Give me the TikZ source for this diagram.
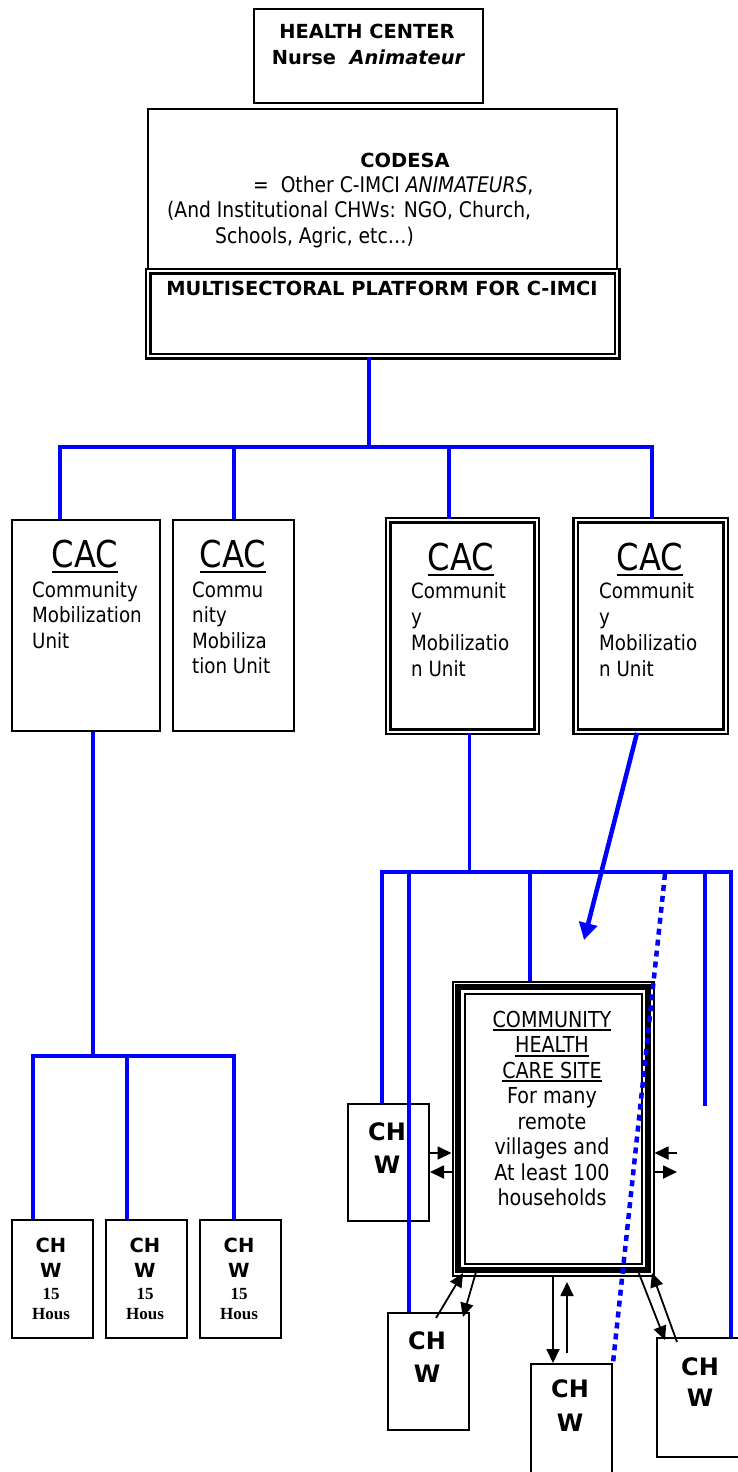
\documentclass[tikz,border=0pt]{standalone}
\usepackage{fontspec}
\setmainfont{DejaVu Sans}
\newfontfamily\nar{DejaVu Sans}[FakeStretch=0.87]
\newfontfamily\tms{Liberation Serif}
\usetikzlibrary{arrows.meta,calc}
\newcommand\myul[3]{\setbox0\hbox{#3}\rlap{\usebox0}\rule[#1]{\wd0}{#2}}
\begin{document}
\begin{tikzpicture}[x=1pt,y=-1pt,
  bx/.style={draw,line width=2pt,inner sep=0pt,anchor=north west},
  dbx/.style={draw,line width=2.4pt,double,double distance=2pt,inner sep=0pt,anchor=north west},
  bl/.style={draw=blue,line width=4pt},
  bldot/.style={draw=blue,line width=4.5pt,dash pattern=on 6pt off 5pt},
  ar/.style={draw=black,line width=1.8pt,-{Triangle[length=14pt,width=13pt]}},
  bt/.style={inner sep=0pt,anchor=base,font=\bfseries\fontsize{19.4}{23}\selectfont},
  nt/.style={inner sep=0pt,anchor=base west,font=\nar\fontsize{21.5}{25}\selectfont},
  cact/.style={inner sep=0pt,anchor=base,font=\nar\fontsize{37}{40}\selectfont},
  cacb/.style={inner sep=0pt,anchor=base west,font=\nar\fontsize{21}{25}\selectfont},
  sitet/.style={inner sep=0pt,anchor=base,font=\nar\fontsize{22}{25}\selectfont},
  chs/.style={inner sep=0pt,anchor=base,font=\bfseries\fontsize{19.5}{23}\selectfont},
  chn/.style={inner sep=0pt,anchor=base,font=\tms\bfseries\fontsize{17}{20}\selectfont},
  chb/.style={inner sep=0pt,anchor=base,font=\bfseries\fontsize{24}{28}\selectfont}
]
\useasboundingbox (0,0) rectangle (738,1472);
\fill[white] (0,0) rectangle (738,1472);

% ---------- top boxes ----------
\node[bx,minimum width=229pt,minimum height=94pt] (hc) at (253,8) {};
\node[bt] (hct1) at (367,39) {HEALTH CENTER};
\node[bt] (hct2) at (368,64) {Nurse\ \ \itshape Animateur};

\node[bx,minimum width=469pt,minimum height=160pt] (codesa) at (147,108) {};
\node[bt] (cod1) at (405,167) {CODESA};
\node[nt] (cod2) at (253,192) {=\ \ Other C-IMCI {\itshape ANIMATEURS},};
\node[nt] (cod3) at (167,217) {(And Institutional CHWs: NGO, Church,};
\node[nt] (cod4) at (215,243) {Schools, Agric, etc…)};

\node[dbx,fill=white,minimum width=469pt,minimum height=85pt] (plat) at (147,270) {};
\node[bt] (platt) at (382,295) {MULTISECTORAL PLATFORM FOR C-IMCI};

% ---------- CAC boxes ----------
\node[bx,minimum width=148pt,minimum height=211pt] (cac1) at (11,519) {};
\node[bx,minimum width=121pt,minimum height=211pt] (cac2) at (172,519) {};
\node[dbx,minimum width=148.5pt,minimum height=211.5pt] (cac3) at (387,519) {};
\node[dbx,minimum width=150pt,minimum height=211.5pt] (cac4) at (574.5,519) {};

\node[cact] (cac1t) at (85,567) {\myul{-6pt}{2.5pt}{CAC}};
\node[cact] (cac2t) at (233,567) {\myul{-6pt}{2.5pt}{CAC}};
\node[cact] (cac3t) at (461,570) {\myul{-6pt}{2.5pt}{CAC}};
\node[cact] (cac4t) at (650,570) {\myul{-6pt}{2.5pt}{CAC}};

\foreach \t [count=\i] in {Community,Mobilization,Unit}
  \node[cacb] (cac1l\i) at (32,{597+25.5*(\i-1)}) {\t};
\foreach \t [count=\i] in {Commu,nity,Mobiliza,tion Unit}
  \node[cacb] (cac2l\i) at (192,{597+25.5*(\i-1)}) {\t};
\foreach \t [count=\i] in {Communit,y,Mobilizatio,n Unit}
  \node[cacb] (cac3l\i) at (411,{598+26*(\i-1)}) {\t};
\foreach \t [count=\i] in {Communit,y,Mobilizatio,n Unit}
  \node[cacb] (cac4l\i) at (599,{598+26*(\i-1)}) {\t};

% ---------- top tree ----------
\coordinate (j0) at (369,447);
\coordinate (t1) at (60,447);
\coordinate (t2) at (234,447);
\coordinate (t3) at (449,447);
\coordinate (t4) at (652,447);
\draw[bl] (j0 |- plat.south) -- (j0);
\draw[bl] (t1 |- cac1.north) -- (t1) -- (t4) -- (t4 |- cac4.north);
\draw[bl] (t2) -- (t2 |- cac2.north);
\draw[bl] (t3) -- (t3 |- cac3.north);

% ---------- left CHW group ----------
\node[bx,minimum width=81pt,minimum height=118pt] (chw1) at (11,1219) {};
\node[bx,minimum width=81pt,minimum height=118pt] (chw2) at (105,1219) {};
\node[bx,minimum width=81pt,minimum height=118pt] (chw3) at (199,1219) {};
\foreach \n/\x in {chw1/51,chw2/145,chw3/239}{
  \node[chs] (\n a) at (\x,1252) {CH};
  \node[chs] (\n b) at (\x,1277) {W};
  \node[chn] (\n c) at (\x,1299) {15};
  \node[chn] (\n d) at (\x,1319) {Hous};
}
\coordinate (k0) at (93,1056);
\coordinate (k1) at (33,1056);
\coordinate (k2) at (127,1056);
\coordinate (k3) at (234,1056);
\draw[bl] (k0 |- cac1.south) -- (k0);
\draw[bl] (k1 |- chw1.north) -- (k1) -- (k3) -- (k3 |- chw3.north);
\draw[bl] (k2) -- (k2 |- chw2.north);

% ---------- right group ----------
\node[draw,line width=2pt,inner sep=0pt,anchor=north west,minimum width=201pt,minimum height=294pt] (site) at (451.5,980.5) {};
\draw[line width=5.5pt] ([shift={(6.5,6.5)}]site.north west) rectangle ([shift={(-6.5,-6.5)}]site.south east);
\draw[line width=2pt] ([shift={(13,13)}]site.north west) rectangle ([shift={(-13,-13)}]site.south east);
\node[sitet] (s1) at (552,1027) {\myul{-4pt}{1.8pt}{COMMUNITY}};
\node[sitet] (s2) at (552,1052.5) {\myul{-4pt}{1.8pt}{HEALTH}};
\node[sitet] (s3) at (552,1078) {\myul{-4pt}{1.8pt}{CARE SITE}};
\foreach \t [count=\i] in {For many,remote,villages and,At least 100,households}
  \node[sitet] (s\i x) at (552,{1103.5+25.6*(\i-1)}) {\t};

\node[bx,minimum width=81pt,minimum height=117pt] (chwL) at (347,1103) {};
\node[chb] (chwLa) at (387,1140) {CH};
\node[chb] (chwLb) at (387,1173) {W};
\node[bx,minimum width=81pt,minimum height=117pt] (chwBL) at (387,1312) {};
\node[chb] (chwBLa) at (427,1349) {CH};
\node[chb] (chwBLb) at (427,1382) {W};
\node[bx,minimum width=81pt,minimum height=125pt] (chwM) at (530,1363) {};
\node[chb] (chwMa) at (570,1397) {CH};
\node[chb] (chwMb) at (570,1431) {W};
\node[bx,minimum width=84pt,minimum height=119pt] (chwR) at (656,1337) {};
\node[chb] (chwRa) at (700,1375) {CH};
\node[chb] (chwRb) at (700,1406) {W};

\coordinate (r0) at (469,872);
\coordinate (r1) at (382,872);
\coordinate (r2) at (409,872);
\coordinate (r3) at (530,872);
\coordinate (r4) at (705,872);
\coordinate (r5) at (731,872);
\coordinate (r4e) at (705,1106);
\coordinate (dt) at (665,874);
\draw[blue,line width=3pt] (r0 |- cac3.south) -- (r0);
\draw[bl] (r1 |- chwL.north) -- (r1) -- (r5) -- (r5 |- chwR.north);
\draw[bl] (r2) -- (r2 |- chwBL.north);
\draw[bl] (r3) -- (r3 |- site.north);
\draw[bl] (r4) -- (r4e);
\draw[bldot] (dt) -- (chwM.north east);
\coordinate (bt) at (584,940);
\draw[blue,line width=4.5pt,-{Triangle[length=17pt,width=18pt]}] (cac4.south -| 637,0) -- (bt);

% side arrows
\draw[ar] (chwL.east |- 0,1153) -- (site.west |- 0,1153);
\draw[ar] (site.west |- 0,1172) -- (chwL.east |- 0,1172);
\coordinate (re1) at (677,1153);
\coordinate (re2) at (677,1172);
\draw[ar] (re1) -- (site.east |- re1);
\draw[ar] (site.east |- re2) -- (re2);

% bottom arrows
\coordinate (b1s) at (436,1318); \coordinate (b1e) at (463,1273);
\coordinate (b2s) at (476,1272); \coordinate (b2e) at (463,1317);
\draw[ar] (b1s) -- (b1e);
\draw[ar] (b2s) -- (b2e);
\draw[ar] (site.south -| 553,0) -- (chwM.north -| 553,0);
\draw[ar] (chwM.north -| 567,1353) ++(0,-10) -- (567,1282);
\coordinate (b5s) at (638,1271); \coordinate (b5e) at (665,1340);
\coordinate (b6s) at (677,1342); \coordinate (b6e) at (652,1273);
\draw[ar] (b5s) -- (b5e);
\draw[ar] (b6s) -- (b6e);
\end{tikzpicture}
\end{document}
